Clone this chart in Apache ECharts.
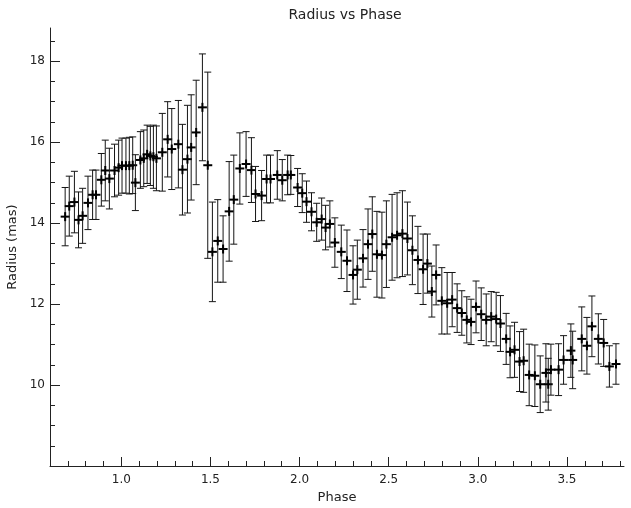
<!DOCTYPE html>
<html>
<head>
<meta charset="utf-8">
<script src="https://cdn.jsdelivr.net/npm/echarts@6/dist/echarts.min.js"></script>
<style>html,body{margin:0;padding:0;background:#fff;}#c{width:631px;height:508px;}</style>
</head>
<body>
<div id="c"></div>
<script>
const phase = [0.685,0.708,0.737,0.760,0.783,0.813,0.839,0.858,0.888,0.910,0.933,0.962,0.985,1.004,1.026,1.045,1.064,1.079,1.107,1.126,1.145,1.163,1.180,1.197,1.230,1.260,1.283,1.320,1.343,1.371,1.392,1.420,1.455,1.485,1.511,1.541,1.571,1.605,1.631,1.665,1.700,1.730,1.753,1.787,1.815,1.837,1.875,1.903,1.933,1.951,1.989,2.015,2.039,2.067,2.096,2.124,2.146,2.170,2.198,2.234,2.266,2.300,2.324,2.356,2.384,2.408,2.434,2.462,2.487,2.519,2.547,2.577,2.605,2.633,2.664,2.693,2.717,2.742,2.766,2.798,2.828,2.856,2.884,2.910,2.938,2.962,2.990,3.019,3.047,3.075,3.103,3.127,3.159,3.181,3.206,3.234,3.257,3.288,3.320,3.350,3.382,3.395,3.410,3.453,3.481,3.522,3.532,3.583,3.612,3.640,3.676,3.706,3.738,3.775];
const radius = [14.16,14.42,14.52,14.08,14.18,14.50,14.70,14.70,15.07,15.30,15.10,15.30,15.37,15.42,15.42,15.42,15.43,15.00,15.56,15.60,15.70,15.66,15.64,15.60,15.75,16.07,15.83,15.95,15.32,15.58,15.87,16.24,16.86,15.43,13.29,13.56,13.36,14.29,14.58,15.35,15.46,15.31,14.72,14.68,15.09,15.09,15.19,15.06,15.19,15.19,14.88,14.74,14.53,14.28,14.02,14.10,13.89,13.98,13.52,13.29,13.07,12.72,12.85,13.13,13.48,13.73,13.23,13.21,13.48,13.65,13.70,13.74,13.62,13.33,13.09,12.86,13.00,12.31,12.72,12.08,12.02,12.11,11.90,11.78,11.61,11.56,11.93,11.75,11.61,11.69,11.63,11.52,11.14,10.82,10.87,10.58,10.60,10.25,10.23,10.02,10.30,10.02,10.38,10.38,10.62,10.85,10.62,11.14,10.97,11.45,11.14,11.04,10.46,10.52];
const radiusErr = [0.72,0.74,0.76,0.69,0.68,0.66,0.61,0.61,0.65,0.75,0.75,0.65,0.68,0.68,0.68,0.70,0.70,0.69,0.70,0.70,0.72,0.73,0.78,0.80,0.96,0.93,1.00,1.08,1.12,1.33,1.30,1.29,1.32,2.30,1.23,1.02,0.82,1.23,1.10,0.88,0.80,0.80,0.68,0.62,0.59,0.59,0.60,0.51,0.49,0.48,0.47,0.48,0.51,0.47,0.47,0.52,0.55,0.57,0.61,0.66,0.76,0.72,0.73,0.71,0.87,0.92,1.06,1.06,1.07,1.06,1.05,1.06,0.90,0.85,0.83,0.87,0.73,0.63,0.74,0.82,0.76,0.67,0.60,0.55,0.57,0.56,0.64,0.65,0.64,0.62,0.66,0.69,0.63,0.64,0.68,0.74,0.78,0.76,0.76,0.70,0.72,0.64,0.63,0.64,0.60,0.66,0.71,0.79,0.70,0.75,0.62,0.58,0.51,0.50];

const xMajor = [1.0,1.5,2.0,2.5,3.0,3.5];
const xMinor = [0.6,0.7,0.8,0.9,1.1,1.2,1.3,1.4,1.6,1.7,1.8,1.9,2.1,2.2,2.3,2.4,2.6,2.7,2.8,2.9,3.1,3.2,3.3,3.4,3.6,3.7,3.8];
const yMajor = [10,12,14,16,18];
const yMinor = [8.5,9,9.5,10.5,11,11.5,12.5,13,13.5,14.5,15,15.5,16.5,17,17.5,18.5];

const data = phase.map((p,i)=>[p, radius[i], radiusErr[i]]);
const FONT = 'DejaVu Sans';
const ink = '#222';

const chart = echarts.init(document.getElementById('c'), null, {renderer:'canvas'});
const xBase = {type:'value', min:0.6, max:3.82, position:'bottom', gridIndex:0, splitLine:{show:false}};
const yBase = {type:'value', min:8, max:18.82, position:'left', gridIndex:0, splitLine:{show:false}};
chart.setOption({
  animation:false,
  backgroundColor:'#fff',
  title:{text:'Radius vs Phase', left:340, top:3, textAlign:'center',
    textStyle:{fontFamily:FONT, fontSize:14, fontWeight:'normal', color:ink}},
  grid:{left:50, right:7, top:28, bottom:42, containLabel:false, outerBoundsMode:'none'},
  xAxis:[
    Object.assign({}, xBase, {
      name:'Phase', nameLocation:'middle', nameGap:22,
      nameTextStyle:{fontFamily:FONT, fontSize:13, color:ink},
      axisLine:{show:true, onZero:false, lineStyle:{color:ink, width:1}},
      axisTick:{show:true, inside:true, length:9, customValues:xMajor, lineStyle:{color:ink}},
      axisLabel:{show:true, customValues:xMajor, margin:8, fontFamily:FONT, fontSize:12, color:ink,
        formatter:v=>v.toFixed(1)}
    }),
    Object.assign({}, xBase, {
      axisLine:{show:false},
      axisTick:{show:true, inside:true, length:5, customValues:xMinor, lineStyle:{color:ink}},
      axisLabel:{show:false}
    })
  ],
  yAxis:[
    Object.assign({}, yBase, {
      name:'Radius (mas)', nameLocation:'middle', nameGap:22, nameRotate:90,
      nameTextStyle:{fontFamily:FONT, fontSize:13, color:ink},
      axisLine:{show:true, onZero:false, lineStyle:{color:ink, width:1}},
      axisTick:{show:true, inside:true, length:10, customValues:yMajor, lineStyle:{color:ink}},
      axisLabel:{show:true, customValues:yMajor, margin:5, fontFamily:FONT, fontSize:12, color:ink,
        formatter:v=>String(v)}
    }),
    Object.assign({}, yBase, {
      axisLine:{show:false},
      axisTick:{show:true, inside:true, length:5, customValues:yMinor, lineStyle:{color:ink}},
      axisLabel:{show:false}
    })
  ],
  series:[{
    type:'custom',
    xAxisIndex:0, yAxisIndex:0,
    data:data,
    clip:false,
    renderItem:function(params, api){
      const x = api.value(0), y = api.value(1), e = api.value(2);
      const c = api.coord([x,y]);
      const t = api.coord([x,y+e]);
      const b = api.coord([x,y-e]);
      const cap = 3.5, m = 4.5;
      const ls = {stroke:'#151515', lineWidth:1};
      return {type:'group', children:[
        {type:'line', shape:{x1:c[0], y1:t[1], x2:c[0], y2:b[1]}, style:ls},
        {type:'line', shape:{x1:c[0]-cap, y1:t[1], x2:c[0]+cap, y2:t[1]}, style:ls},
        {type:'line', shape:{x1:c[0]-cap, y1:b[1], x2:c[0]+cap, y2:b[1]}, style:ls},
        {type:'line', shape:{x1:c[0]-m, y1:c[1], x2:c[0]+m, y2:c[1]}, style:{stroke:'#000', lineWidth:2}},
        {type:'line', shape:{x1:c[0], y1:c[1]-m, x2:c[0], y2:c[1]+m}, style:{stroke:'#000', lineWidth:2}}
      ]};
    }
  }]
});
</script>
</body>
</html>
